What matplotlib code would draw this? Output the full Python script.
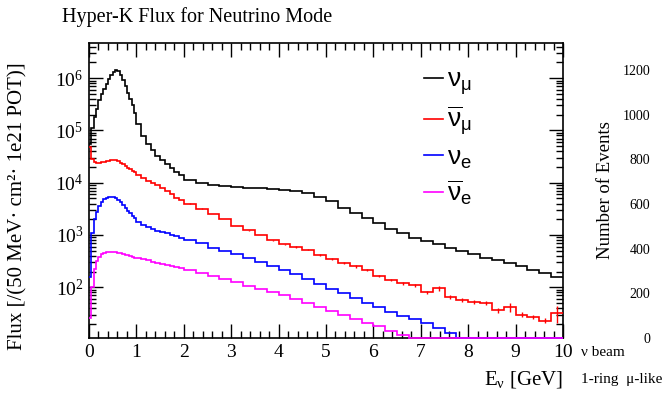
import numpy             as np
import matplotlib
matplotlib.use('Agg')
import matplotlib.pyplot as plt
from matplotlib.ticker import MultipleLocator, LogLocator, NullFormatter

plt.rcParams['font.family']      = ['Liberation Serif', 'DejaVu Serif']
plt.rcParams['mathtext.fontset'] = 'custom'
plt.rcParams['mathtext.rm']      = 'Liberation Serif'
plt.rcParams['mathtext.it']      = 'Liberation Serif:italic'
plt.rcParams['mathtext.bf']      = 'Liberation Serif:bold'
plt.rcParams['mathtext.sf']      = 'Liberation Sans'

# bin edges [GeV]: 50 MeV up to 1 GeV, 100 MeV up to 2 GeV, 250 MeV up to 10 GeV
EDGES = np.concatenate([np.arange(0.0, 1.0, 0.05),
                        np.arange(1.0, 2.0, 0.1),
                        np.arange(2.0, 10.001, 0.25)])

numu = [5.6e4, 1.1e5, 1.8e5, 2.6e5, 3.8e5, 5.0e5, 6.3e5, 7.6e5, 9.5e5, 1.17e6,
        1.32e6, 1.41e6, 1.35e6, 1.15e6, 9.1e5, 7.1e5, 5.2e5, 4.0e5, 3.0e5, 2.2e5,
        1.3e5, 7.9e4, 5.5e4, 4.2e4, 3.2e4, 2.7e4, 2.3e4, 1.9e4, 1.6e4, 1.4e4,
        1.15e4, 9.8e3, 8.9e3, 8.5e3, 8.1e3, 7.9e3, 7.8e3, 7.6e3, 7.2e3, 6.9e3,
        6.3e3, 5.4e3, 4.4e3, 3.3e3, 2.6e3, 2.1e3, 1.66e3, 1.32e3, 1.07e3, 890,
        760, 660, 575, 500, 435, 370, 325, 290, 250, 215,
        185, 155]

numubar = [4.8e4, 2.8e4, 2.5e4, 2.4e4, 2.4e4, 2.45e4, 2.5e4, 2.57e4, 2.63e4, 2.7e4,
           2.75e4, 2.75e4, 2.63e4, 2.4e4, 2.24e4, 2.1e4, 1.95e4, 1.8e4, 1.7e4, 1.6e4,
           1.4e4, 1.23e4, 1.1e4, 1.0e4, 8.9e3, 7.9e3, 6.9e3, 6.0e3, 5.2e3, 4.7e3,
           4.0e3, 3.2e3, 2.5e3, 2.0e3, 1.48e3, 1.23e3, 1.0e3, 800, 660, 590,
           525, 420, 345, 295, 250, 215, 165, 138, 120, 110,
           80, 95, 66, 58, 52, 50, 36, 42, 30, 27,
           23, 32]

# relative stat. errors of numubar in the 250 MeV bins (2-10 GeV)
numubar_relerr = [0.01, 0.01, 0.01, 0.01, 0.015, 0.015, 0.02, 0.02,
                  0.03, 0.03, 0.03, 0.04, 0.04, 0.05, 0.05, 0.05,
                  0.06, 0.06, 0.07, 0.07, 0.08, 0.12, 0.08, 0.08,
                  0.09, 0.09, 0.10, 0.20, 0.10, 0.10, 0.10, 0.35]

nue = [160, 1.1e3, 2.0e3, 2.8e3, 3.6e3, 4.3e3, 4.8e3, 5.1e3, 5.4e3, 5.4e3,
       5.25e3, 5.0e3, 4.7e3, 4.3e3, 3.8e3, 3.3e3, 2.9e3, 2.6e3, 2.3e3, 2.1e3,
       1.8e3, 1.58e3, 1.41e3, 1.29e3, 1.2e3, 1.12e3, 1.07e3, 1.0e3, 950, 890,
       800, 690, 575, 500, 425, 365, 310, 255, 215, 178,
       145, 115, 93, 76, 62, 50, 41, 33, 28, 25,
       21, 16.6, 13.2, 0, 0, 0, 0, 0, 0, 0,
       0, 0]

nuebar = [26, 100, 220, 315, 380, 425, 455, 470, 480, 480,
          470, 465, 455, 445, 435, 420, 405, 395, 380, 370,
          355, 340, 325, 310, 295, 282, 270, 257, 245, 235,
          214, 186, 166, 145, 126, 107, 93, 81, 71, 60,
          50, 42, 35, 29, 24.5, 21, 17.8, 14.8, 12.3, 10.9,
          0, 0, 0, 0, 0, 0, 0, 0, 0, 0,
          0, 0]

SERIES = [
  (numu,    'black',   r'$\mathsf{\nu_{\mu}}$'),
  (numubar, '#ff0000', r'$\mathsf{\overline{\nu}_{\mu}}$'),
  (nue,     '#0000ff', r'$\mathsf{\nu_{e}}$'),
  (nuebar,  '#ff00ff', r'$\mathsf{\overline{\nu}_{e}}$'),
]

YMIN, YMAX = 10.7, 4.7e6

# right-hand neighbour panel (only its axis labels are visible)
EVENT_TICKS = [0, 200, 400, 600, 800, 1000, 1200]

fig = plt.figure(figsize = (6.64, 3.97), dpi = 100)
ax  = fig.add_axes([89 / 664, 59 / 397, 474 / 664, 295 / 397])

for vals, col, lab in SERIES:
  v = np.clip(np.asarray(vals, dtype = float), YMIN, None)
  ax.stairs(v, EDGES, baseline = None, color = col, lw = 1.2, label = lab,
            zorder = 3, clip_on = False)

# error bars on the antineutrino flux
centers = 0.5 * (EDGES[:-1] + EDGES[1:])
hi      = slice(30, None)
vals_hi = np.asarray(numubar[hi])
ax.errorbar(centers[hi], vals_hi, yerr = vals_hi * np.asarray(numubar_relerr),
            fmt = 'none', ecolor = '#ff0000', elinewidth = 1.0, zorder = 3)

ax.set_yscale('log')
ax.set_xlim(0, 10)
ax.set_ylim(YMIN, YMAX)

ax.xaxis.set_major_locator(MultipleLocator(1))
ax.xaxis.set_minor_locator(MultipleLocator(0.2))
ax.yaxis.set_major_locator(LogLocator(base = 10, numticks = 10))
ax.yaxis.set_minor_locator(LogLocator(base = 10, subs = np.arange(2, 10), numticks = 12))
ax.yaxis.set_minor_formatter(NullFormatter())

ax.tick_params(which = 'both', direction = 'in', top = True, right = True,
               labelsize = 14, width = 1.0, pad = 4)
ax.tick_params(which = 'major', length = 10)
ax.tick_params(which = 'minor', length = 5)
for sp in ax.spines.values():
  sp.set_linewidth(1.2)

ax.set_xlabel(r'E$_{\mathrm{\nu}}$ [GeV]', fontsize = 15, loc = 'right', labelpad = 6)
fig.text(18 / 664, 0.5 * (43 + 338) / 397,
         'Flux [/(50 MeV\u00b7 cm\u00b2\u00b7 1e21 POT)]',
         rotation = 90, fontsize = 15, ha = 'center', va = 'center')
fig.text(62 / 664, 1 - 17 / 397, 'Hyper-K Flux for Neutrino Mode',
         fontsize = 14.5, ha = 'left', va = 'center')

leg = ax.legend(loc = 'upper left', bbox_to_anchor = (0.685, 0.95), frameon = False,
                fontsize = 19, handlelength = 0.7, handletextpad = 0.15,
                labelspacing = 0.3, borderaxespad = 0)
for h in leg.get_lines():
  h.set_linewidth(1.2)

# neighbouring panel: just the event axis labels
ax2 = fig.add_axes([656 / 664, 59 / 397, 0.005, 295 / 397])
ax2.set_ylim(0, 1320)
ax2.set_xticks([])
ax2.set_yticks(EVENT_TICKS)
ax2.tick_params(axis = 'y', length = 0, labelsize = 10, pad = 4)
for sp in ax2.spines.values():
  sp.set_visible(False)
ax2.patch.set_visible(False)
ax2.set_ylabel('Number of Events', fontsize = 13.5, labelpad = 6)

fig.text(581 / 664, 1 - 352 / 397, '\u03bd beam', fontsize = 11, ha = 'left', va = 'center')
fig.text(581 / 664, 1 - 380 / 397, '1-ring  \u03bc-like', fontsize = 11, ha = 'left', va = 'center')

fig.savefig('out.png', dpi = 100)
